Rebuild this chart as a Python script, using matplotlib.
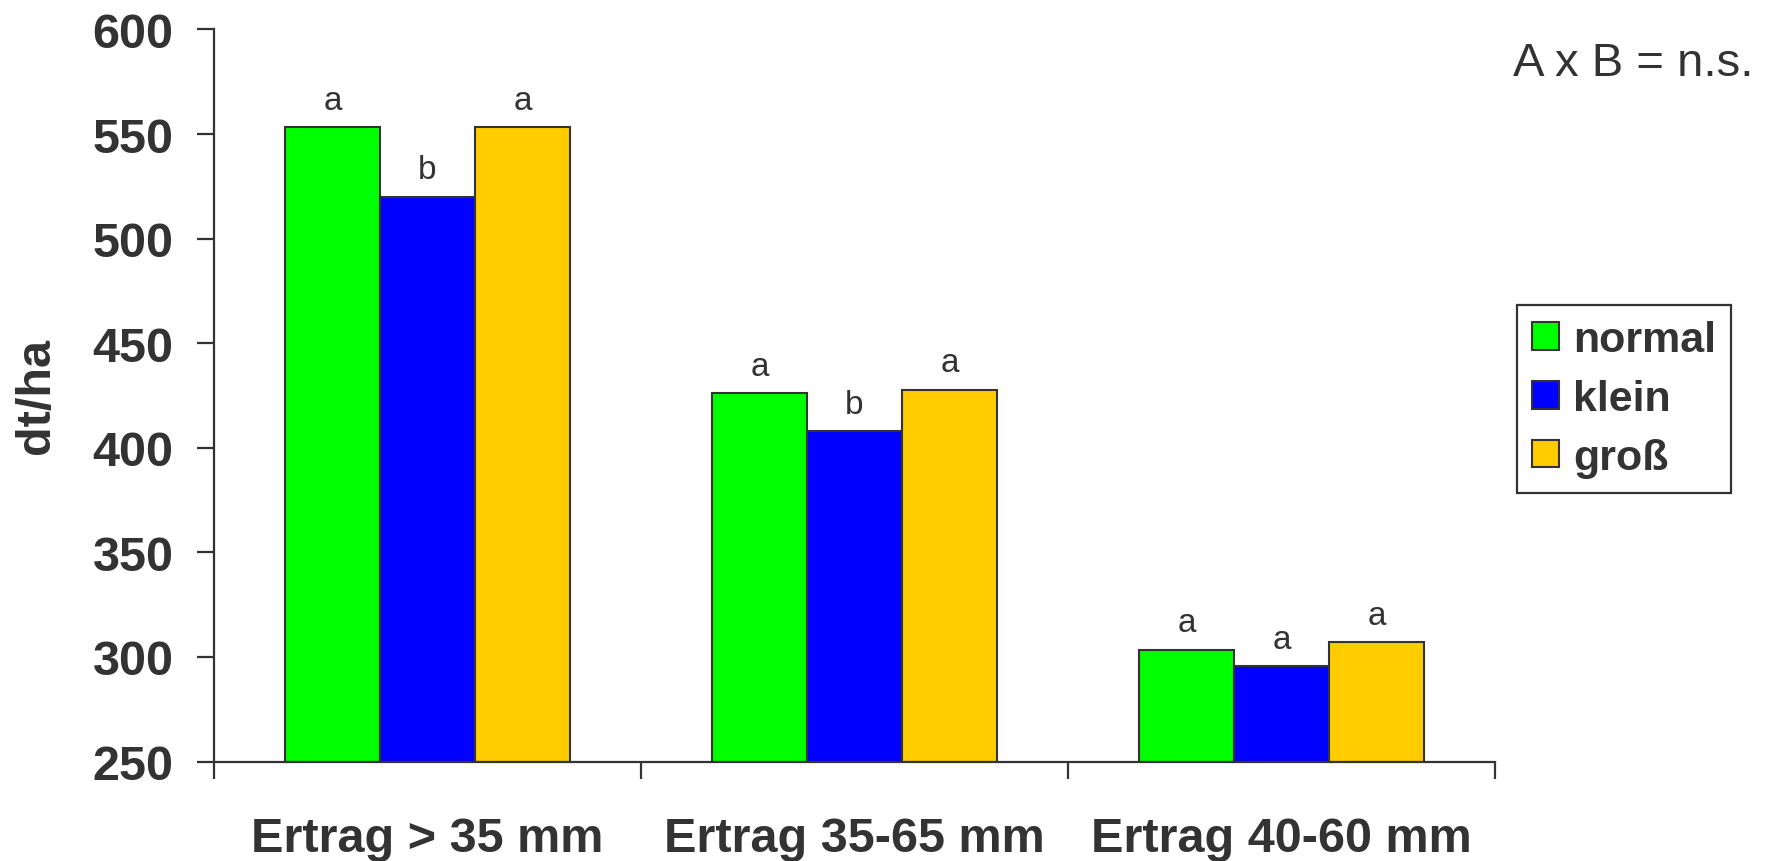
import numpy as np
import matplotlib
matplotlib.use("Agg")
import matplotlib.pyplot as plt

plt.rcParams['font.family'] = ['Liberation Sans', 'DejaVu Sans']

# data
categories = ["Ertrag > 35 mm", "Ertrag 35-65 mm", "Ertrag 40-60 mm"]
series_names = ["normal", "klein", "groß"]
normal = [553.2, 426.0, 303.2]
klein = [519.8, 407.8, 295.5]
gross = [553.2, 427.7, 307.0]
letters_normal = ["a", "a", "a"]
letters_klein = ["b", "b", "a"]
letters_gross = ["a", "a", "a"]
y_ticks = [250, 300, 350, 400, 450, 500, 550, 600]

colors = ["#00FF00", "#0000FF", "#FFCC00"]
dark = "#333333"

fig = plt.figure(figsize=(17.66, 8.62), dpi=100)
ax = fig.add_axes([0.1212, 0.1154, 0.8465 - 0.1212, 0.9647 - 0.1154])

x = np.arange(len(categories))
width = 0.2225
all_series = [normal, klein, gross]
all_letters = [letters_normal, letters_klein, letters_gross]

for i, (vals, lets) in enumerate(zip(all_series, all_letters)):
    pos = x + (i - 1) * width
    ax.bar(pos, np.array(vals) - 250, width, bottom=250, color=colors[i],
           edgecolor=dark, linewidth=1.5, label=series_names[i], zorder=2)
    for px, v, l in zip(pos, vals, lets):
        ax.annotate(l, (px, v), xytext=(0, 13.5), textcoords="offset points",
                    ha="center", va="baseline", fontsize=24, color=dark)

ax.set_xlim(-0.5, 2.5)
ax.set_ylim(250, 600)
ax.set_yticks(y_ticks)
ax.set_yticklabels([str(t) for t in y_ticks], fontsize=35, fontweight="bold", color=dark)
ax.set_xticks([-0.5, 0.5, 1.5, 2.5])
ax.set_xticklabels([])
ax.tick_params(axis="both", direction="out", length=12.2, width=1.6, color=dark)
ax.tick_params(axis="y", pad=17)

for c, name in zip(x, categories):
    ax.text(c, -0.1223, name, transform=ax.get_xaxis_transform(), ha="center",
            va="baseline", fontsize=35, fontweight="bold", color=dark)

for s in ["top", "right"]:
    ax.spines[s].set_visible(False)
for s in ["left", "bottom"]:
    ax.spines[s].set_color(dark)
    ax.spines[s].set_linewidth(1.6)

fig.text(36 / 1766, 1 - 396 / 862, "dt/ha", rotation=90, ha="center", va="center",
         fontsize=35, fontweight="bold", color=dark)
fig.text(1513 / 1766, 1 - 76 / 862, "A x B = n.s.", ha="left", va="baseline",
         fontsize=34, color=dark)

leg = ax.legend(loc="upper left", bbox_to_anchor=(1517 / 1766, 1 - 306 / 862),
                bbox_transform=fig.transFigure, frameon=True, borderaxespad=0,
                fancybox=False, shadow=False, framealpha=1, edgecolor=dark,
                handlelength=0.63, handleheight=0.6, handletextpad=0.33,
                labelspacing=0.44, borderpad=0.35, prop={"weight": "bold", "size": 31})
leg.get_frame().set_linewidth(1.6)
for t in leg.get_texts():
    t.set_color(dark)

fig.savefig("out.png", dpi=100)
